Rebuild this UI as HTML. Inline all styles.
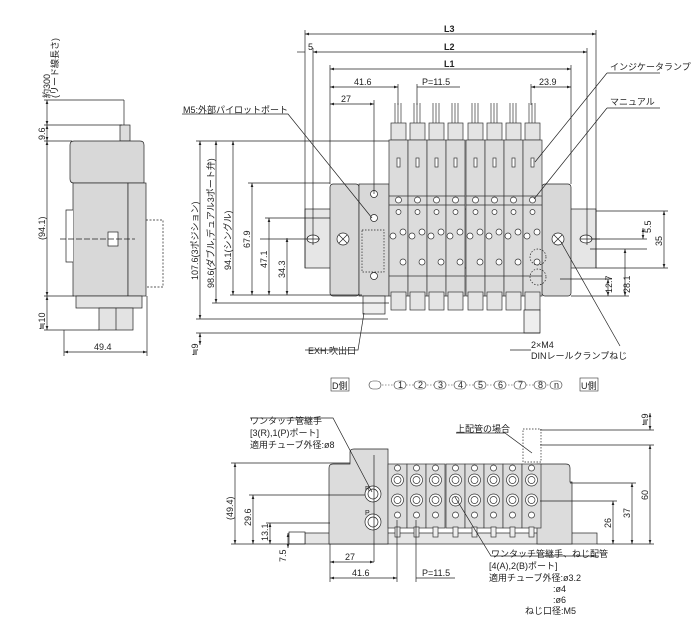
<!DOCTYPE html>
<html><head><meta charset="utf-8"><style>
html,body{margin:0;padding:0;background:#fff}
svg{display:block}
text{font-family:"Liberation Sans","Noto Sans CJK JP",sans-serif;font-size:9px;fill:#222}
.b{font-weight:bold}
</style></head><body>
<svg width="700" height="634" viewBox="0 0 700 634" xmlns="http://www.w3.org/2000/svg">
<defs>
<marker id="a" viewBox="0 0 6 6" refX="6" refY="3" markerWidth="6" markerHeight="6" orient="auto-start-reverse"><path d="M0,1 L6,3 L0,5z" fill="#222"/></marker>
<g id="v" stroke="#333" stroke-width="0.7">
<line x1="6" y1="103" x2="6" y2="123"/><line x1="9" y1="103" x2="9" y2="123"/><line x1="12" y1="103" x2="12" y2="123"/>
<rect x="2" y="123" width="15" height="17" fill="#e4e4e4"/>
<rect x="0" y="140" width="19" height="156" fill="#dcdcdc"/>
<rect x="8" y="158" width="3" height="9" fill="#fff"/>
<line x1="0" y1="196" x2="19" y2="196"/><line x1="0" y1="205" x2="19" y2="205"/>
<circle cx="9.5" cy="200" r="3" fill="#fff"/><circle cx="9.5" cy="212" r="2.5" fill="#fff"/>
<circle cx="4" cy="236" r="3" fill="#fff"/><circle cx="14" cy="232" r="3" fill="#fff"/>
<circle cx="14" cy="262" r="3" fill="#fff"/>
<line x1="0" y1="276" x2="19" y2="276"/>
<rect x="2" y="292" width="15" height="18" fill="#e4e4e4"/>
</g>
<g id="w" stroke="#333" stroke-width="0.7">
<rect x="0" y="464" width="19" height="64" fill="#dcdcdc"/>
<circle cx="9.5" cy="468" r="3" fill="#fff"/>
<circle cx="9.5" cy="480" r="6" fill="#fff"/><circle cx="9.5" cy="480" r="3.5" fill="none"/>
<circle cx="9.5" cy="500" r="6" fill="#fff"/><circle cx="9.5" cy="500" r="3.5" fill="none"/>
<circle cx="9.5" cy="515" r="3" fill="#fff"/>
<rect x="7" y="527" width="5" height="10" fill="#eee"/>
</g>
</defs>

<g stroke="#222" stroke-width="0.7" fill="none">
<!-- side view -->
<line x1="124" y1="100" x2="124" y2="125"/>
<rect x="120" y="125" width="10" height="16" fill="#ddd"/>
<path d="M74,141 H140 Q144,141 144,145 V183 H74 Q70,183 70,179 V145 Q70,141 74,141Z" fill="#d8d8d8"/>
<rect x="73" y="183" width="55" height="113" fill="#d8d8d8"/>
<rect x="128" y="183" width="18" height="113" fill="#d8d8d8"/>
<path d="M73,210 H66 V262 H73" fill="#fff"/>
<rect x="108" y="232" width="10" height="14" fill="#fff"/>
<line x1="60" y1="239" x2="135" y2="239" stroke-dasharray="6,2"/>
<path d="M146,220 H163 V287 H146" stroke-dasharray="2,1.5"/>
<rect x="76" y="296" width="66" height="12" fill="#e3e3e3"/>
<rect x="99" y="308" width="34" height="22" fill="#e3e3e3"/>
<line x1="116" y1="308" x2="116" y2="330"/>
<!-- side dims -->
<g marker-start="url(#a)" marker-end="url(#a)">
<line x1="47" y1="100" x2="47" y2="125"/><line x1="47" y1="125" x2="47" y2="141"/>
<line x1="47" y1="141" x2="47" y2="296"/><line x1="47" y1="296" x2="47" y2="330"/>
<line x1="64" y1="352" x2="147" y2="352"/>
</g>
<line x1="44" y1="100" x2="124" y2="100"/><line x1="44" y1="125" x2="122" y2="125"/>
<line x1="44" y1="141" x2="72" y2="141"/><line x1="44" y1="296" x2="74" y2="296"/>
<line x1="44" y1="330" x2="99" y2="330"/>
<line x1="64" y1="330" x2="64" y2="356"/><line x1="147" y1="296" x2="147" y2="356"/>

<!-- front top view: DIN rail -->
<rect x="305" y="209" width="291" height="59" fill="#e6e6e6"/>
<ellipse cx="313" cy="239" rx="6" ry="4" fill="#fff"/>
<ellipse cx="586" cy="239" rx="6" ry="4" fill="#fff"/>
<rect x="330" y="184" width="29" height="112" rx="3" fill="#d8d8d8"/>
<rect x="359" y="184" width="30" height="112" fill="#d8d8d8"/>
<rect x="542" y="184" width="29" height="112" rx="3" fill="#d8d8d8"/>
<circle cx="343" cy="239" r="6" fill="#fff"/><path d="M339,235 L347,243 M347,235 L339,243"/>
<circle cx="558" cy="239" r="6" fill="#fff"/><path d="M554,235 L562,243 M562,235 L554,243"/>
<circle cx="374" cy="194" r="3.5" fill="#fff"/><circle cx="374" cy="218" r="3.5" fill="#fff"/><circle cx="374" cy="276" r="3.5" fill="#fff"/>
<rect x="362" y="230" width="22" height="42" stroke-dasharray="1.5,1.5"/>
<rect x="363" y="296" width="22" height="18" fill="#eee"/>
<line x1="260" y1="239" x2="320" y2="239"/>
<line x1="580" y1="239" x2="600" y2="239"/>
</g>
<use href="#v" x="389"/><use href="#v" x="408"/><use href="#v" x="427"/><use href="#v" x="446"/><use href="#v" x="466"/><use href="#v" x="485"/><use href="#v" x="504"/><use href="#v" x="523"/>
<g stroke="#222" stroke-width="0.7" fill="none">
<circle cx="538" cy="257" r="8" stroke-dasharray="1.5,1.5"/><circle cx="538" cy="277" r="8" stroke-dasharray="1.5,1.5"/>
<rect x="524" y="310" width="16" height="23" fill="#eee"/>
<!-- top dims -->
<line x1="305" y1="30" x2="305" y2="268"/><line x1="596" y1="30" x2="596" y2="268"/>
<line x1="313" y1="48" x2="313" y2="245"/><line x1="587" y1="48" x2="587" y2="245"/>
<line x1="330" y1="65" x2="330" y2="184"/><line x1="571" y1="65" x2="571" y2="184"/>
<line x1="398" y1="84" x2="398" y2="105"/><line x1="417" y1="84" x2="417" y2="105"/><line x1="531" y1="84" x2="531" y2="105"/>
<line x1="374" y1="100" x2="374" y2="194"/>
<g marker-start="url(#a)" marker-end="url(#a)">
<line x1="305" y1="34" x2="596" y2="34"/>
<line x1="313" y1="52" x2="587" y2="52"/>
<line x1="330" y1="69" x2="571" y2="69"/>
<line x1="330" y1="87" x2="398" y2="87"/>
<line x1="531" y1="87" x2="571" y2="87"/>
<line x1="330" y1="104" x2="374" y2="104"/>
</g>
<line x1="297" y1="52" x2="305" y2="52"/><line x1="417" y1="87" x2="460" y2="87"/>
<!-- left vertical dims -->
<g marker-start="url(#a)" marker-end="url(#a)">
<line x1="200" y1="141" x2="200" y2="319"/>
<line x1="216" y1="141" x2="216" y2="303"/>
<line x1="233" y1="141" x2="233" y2="295"/>
<line x1="252" y1="183" x2="252" y2="295"/>
<line x1="269" y1="218" x2="269" y2="295"/>
<line x1="287" y1="238" x2="287" y2="295"/>
<line x1="200" y1="333" x2="200" y2="345"/>
</g>
<line x1="196" y1="141" x2="389" y2="141"/>
<line x1="248" y1="183" x2="330" y2="183"/>
<line x1="265" y1="218" x2="330" y2="218"/>
<line x1="230" y1="295" x2="362" y2="295"/>
<line x1="212" y1="303" x2="389" y2="303"/>
<line x1="196" y1="319" x2="388" y2="319"/>
<line x1="196" y1="333" x2="540" y2="333"/>
<!-- right dims -->
<g marker-start="url(#a)" marker-end="url(#a)">
<line x1="664" y1="211" x2="664" y2="268"/>
<line x1="643" y1="228" x2="643" y2="239"/>
<line x1="625" y1="249" x2="625" y2="296"/>
<line x1="608" y1="279" x2="608" y2="296"/>
</g>
<line x1="596" y1="211" x2="668" y2="211"/><line x1="596" y1="268" x2="668" y2="268"/>
<line x1="592" y1="239" x2="647" y2="239"/><line x1="590" y1="249" x2="647" y2="249"/>
<line x1="560" y1="279" x2="612" y2="279"/><line x1="571" y1="296" x2="629" y2="296"/>
<!-- leaders -->
<path d="M182,114 H288 L372,218"/>
<path d="M305,350 H358 L364,313"/>
<path d="M607,73 H660 M607,73 L535,162"/>
<path d="M607,108 H660 M607,108 L534,199"/>
<path d="M531,350 H510" /><path d="M620,346 L561,242"/>
</g>
<text x="50" y="98" transform="rotate(-90 50 98)">約300</text>
<text x="58" y="98" transform="rotate(-90 58 98)">(リード線長さ)</text>
<text x="45" y="140" transform="rotate(-90 45 140)">9.6</text>
<text x="45" y="240" transform="rotate(-90 45 240)">(94.1)</text>
<text x="45" y="330" transform="rotate(-90 45 330)">≒10</text>
<text x="94" y="350">49.4</text>
<text x="183" y="113">M5:外部パイロットポート</text>
<text x="198" y="280" transform="rotate(-90 198 280)">107.6(3ポジション)</text>
<text x="214" y="288" transform="rotate(-90 214 288)">98.6(ダブル,デュアル3ポート弁)</text>
<text x="231" y="270" transform="rotate(-90 231 270)">94.1(シングル)</text>
<text x="250" y="248" transform="rotate(-90 250 248)">67.9</text>
<text x="267" y="268" transform="rotate(-90 267 268)">47.1</text>
<text x="285" y="278" transform="rotate(-90 285 278)">34.3</text>
<text x="198" y="356" transform="rotate(-90 198 356)">≒9</text>
<text x="308" y="354">EXH.吹出口</text>
<text x="308" y="50">5</text>
<text x="444" y="32" class="b">L3</text>
<text x="444" y="50" class="b">L2</text>
<text x="444" y="67" class="b">L1</text>
<text x="354" y="85">41.6</text>
<text x="422" y="85">P=11.5</text>
<text x="539" y="85">23.9</text>
<text x="341" y="102">27</text>
<text x="610" y="70">インジケータランプ</text>
<text x="610" y="105">マニュアル</text>
<text x="651" y="233" transform="rotate(-90 651 233)">5.5</text>
<text x="662" y="246" transform="rotate(-90 662 246)">35</text>
<text x="612" y="293" transform="rotate(-90 612 293)">12.7</text>
<text x="630" y="293" transform="rotate(-90 630 293)">28.1</text>
<text x="531" y="348">2×M4</text>
<text x="531" y="359">DINレールクランプねじ</text>

<!-- D側 row -->
<g stroke="#333" stroke-width="0.6" fill="none">
<rect x="331" y="378" width="18" height="13"/>
<rect x="580" y="378" width="18" height="13"/>
<path d="M376,385 H555" stroke-dasharray="1.5,1.5"/>
</g>
<text x="332" y="389">D側</text><text x="581" y="389">U側</text>
<g stroke="#333" stroke-width="0.6" fill="#fff">
<rect x="369" y="381" width="12" height="8" rx="4"/>
<rect x="394" y="381" width="12" height="8" rx="4"/><rect x="414" y="381" width="12" height="8" rx="4"/>
<rect x="434" y="381" width="12" height="8" rx="4"/><rect x="454" y="381" width="12" height="8" rx="4"/>
<rect x="474" y="381" width="12" height="8" rx="4"/><rect x="494" y="381" width="12" height="8" rx="4"/>
<rect x="514" y="381" width="12" height="8" rx="4"/><rect x="534" y="381" width="12" height="8" rx="4"/>
<rect x="550" y="381" width="12" height="8" rx="4"/>
</g>
<g style="font-size:6px"><text x="398" y="388">1</text><text x="418" y="388">2</text><text x="438" y="388">3</text><text x="458" y="388">4</text><text x="478" y="388">5</text><text x="498" y="388">6</text><text x="518" y="388">7</text><text x="538" y="388">8</text><text x="554" y="388">n</text></g>

<!-- bottom view -->
<g stroke="#222" stroke-width="0.7" fill="none">
<rect x="305" y="533" width="292" height="11" fill="#e6e6e6"/>
<rect x="289" y="532" width="16" height="12" fill="#fff"/>
<path d="M329,544 V468 Q329,464 333,464 H350 V452 Q350,449 354,449 H388 V544Z" fill="#dcdcdc"/>
<path d="M537,544 V464 H566 Q570,464 570,468 V482 H572 V544Z" fill="#dcdcdc"/>
<circle cx="373" cy="494" r="8" fill="#fff"/><circle cx="373" cy="494" r="5"/>
<circle cx="373" cy="522" r="8" fill="#fff"/><circle cx="373" cy="522" r="5"/>
<line x1="374" y1="455" x2="374" y2="562"/>
<rect x="523" y="429" width="18" height="33" stroke-dasharray="1.5,1.5"/>
</g>
<use href="#w" x="388"/><use href="#w" x="407"/><use href="#w" x="426"/><use href="#w" x="446"/><use href="#w" x="465"/><use href="#w" x="484"/><use href="#w" x="503"/><use href="#w" x="522"/>
<g stroke="#222" stroke-width="0.7" fill="none">
<g marker-start="url(#a)" marker-end="url(#a)">
<line x1="235" y1="463" x2="235" y2="544"/>
<line x1="253" y1="495" x2="253" y2="544"/>
<line x1="270" y1="523" x2="270" y2="544"/>
<line x1="288" y1="533" x2="288" y2="548"/>
<line x1="330" y1="562" x2="374" y2="562"/>
<line x1="330" y1="578" x2="397" y2="578"/>
<line x1="650" y1="445" x2="650" y2="544"/>
<line x1="632" y1="483" x2="632" y2="544"/>
<line x1="613" y1="501" x2="613" y2="544"/>
<line x1="650" y1="413" x2="650" y2="430"/>
</g>
<line x1="231" y1="463" x2="350" y2="463"/><line x1="249" y1="495" x2="365" y2="495"/>
<line x1="266" y1="523" x2="330" y2="523"/><line x1="231" y1="544" x2="305" y2="544"/>
<line x1="330" y1="544" x2="330" y2="582"/><line x1="397" y1="520" x2="397" y2="582"/><line x1="416" y1="520" x2="416" y2="582"/>
<line x1="416" y1="578" x2="455" y2="578"/>
<line x1="540" y1="430" x2="654" y2="430"/><line x1="540" y1="445" x2="654" y2="445"/>
<line x1="570" y1="483" x2="636" y2="483"/><line x1="540" y1="501" x2="617" y2="501"/>
<line x1="597" y1="544" x2="654" y2="544"/>
<path d="M250,418 H333 L372,492"/>
<path d="M456,433 H505 L532,453"/>
<path d="M598,556 H491 L455,497"/>
</g>
<text x="250" y="424">ワンタッチ管継手</text>
<text x="250" y="436">[3(R),1(P)ポート]</text>
<text x="250" y="448">適用チューブ外径:ø8</text>
<text x="456" y="432">上配管の場合</text>
<text x="365" y="491" style="font-size:7px">R</text><text x="365" y="515" style="font-size:7px">P</text>
<text x="233" y="520" transform="rotate(-90 233 520)">(49.4)</text>
<text x="251" y="526" transform="rotate(-90 251 526)">29.6</text>
<text x="268" y="541" transform="rotate(-90 268 541)">13.1</text>
<text x="286" y="562" transform="rotate(-90 286 562)">7.5</text>
<text x="345" y="560">27</text><text x="352" y="576">41.6</text><text x="422" y="576">P=11.5</text>
<text x="648" y="500" transform="rotate(-90 648 500)">60</text>
<text x="630" y="518" transform="rotate(-90 630 518)">37</text>
<text x="611" y="528" transform="rotate(-90 611 528)">26</text>
<text x="648" y="426" transform="rotate(-90 648 426)">≒9</text>
<text x="491" y="557">ワンタッチ管継手、ねじ配管</text>
<text x="489" y="569">[4(A),2(B)ポート]</text>
<text x="489" y="581">適用チューブ外径:ø3.2</text>
<text x="553" y="592">:ø4</text>
<text x="553" y="603">:ø6</text>
<text x="525" y="614">ねじ口径:M5</text>
</svg>
</body></html>
